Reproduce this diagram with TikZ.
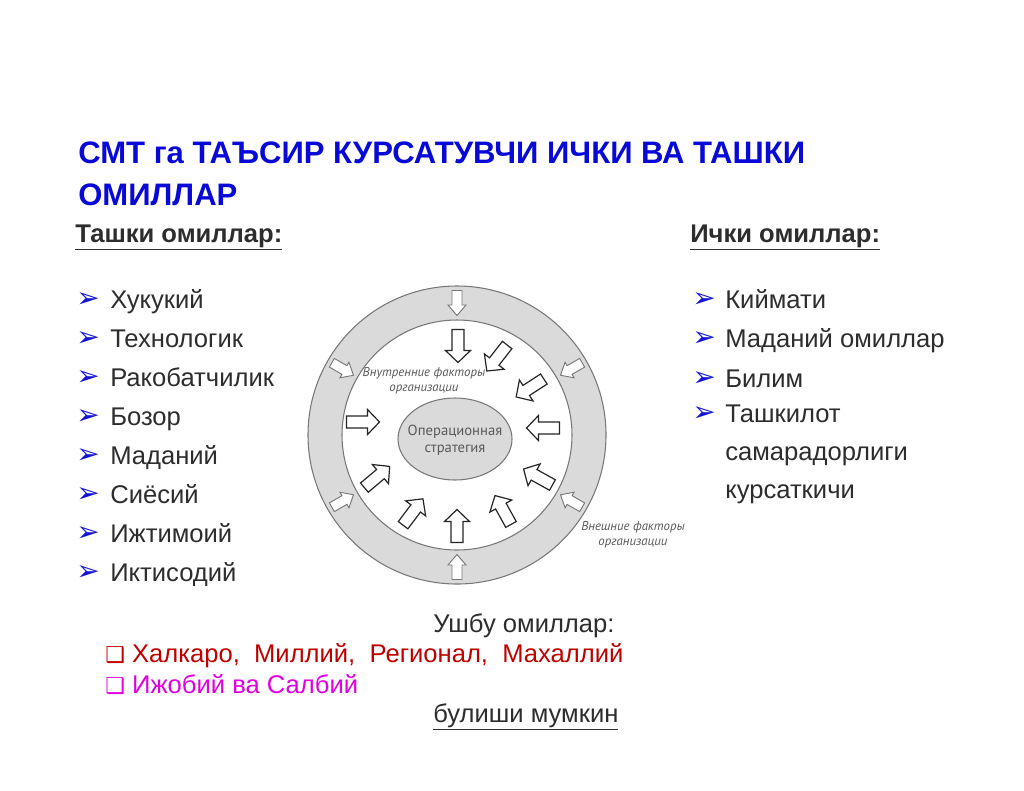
\documentclass[tikz,border=0pt]{standalone}
\usepackage{fontspec}
\setmainfont{Liberation Sans}
\newfontfamily\sym{DejaVu Sans}
\newfontfamily\ptsans{PT Sans}
\definecolor{titleblue}{RGB}{8,8,215}
\definecolor{txt}{RGB}{45,45,45}
\definecolor{ringgray}{RGB}{218,218,218}
\definecolor{edgegray}{RGB}{120,120,120}
\definecolor{lblgray}{RGB}{90,90,90}
\definecolor{redtxt}{RGB}{192,0,0}
\definecolor{magtxt}{RGB}{225,0,225}
\definecolor{bulletblue}{RGB}{20,20,210}
\tikzset{
  titletext/.style={anchor=base west, font=\bfseries\fontsize{23.3}{28}\selectfont, text=titleblue, inner sep=0pt},
  headtext/.style={anchor=base west, font=\bfseries\fontsize{19.2}{23}\selectfont, text=txt, inner sep=0pt},
  itemtext/.style={anchor=base west, font=\fontsize{19.2}{23}\selectfont, text=txt, inner sep=0pt},
  bullet/.style={anchor=base west, font=\sym\fontsize{21}{24}\selectfont, text=bulletblue, inner sep=0pt},
  innerarrow/.style={draw=black!85, fill=white, line width=0.9pt, line join=miter},
  outerarrow/.style={draw=edgegray, fill=white, line width=0.7pt},
  smalllabel/.style={font=\ptsans\itshape\fontsize{9.6}{11}\selectfont, text=lblgray, inner sep=0pt, align=center},
  centerlabel/.style={font=\ptsans\fontsize{11}{12.5}\selectfont, text=lblgray, inner sep=0pt, align=center},
}
\newcommand{\bigarr}[3]{\draw[innerarrow, shift={({#1},{#2})}, rotate={#3}]
  (-16.5,-6) -- (4.5,-6) -- (4.5,-12.5) -- (16.5,0) -- (4.5,12.5) -- (4.5,6) -- (-16.5,6) -- cycle;}
\newcommand{\smallarr}[3]{\draw[outerarrow, shift={({#1},{#2})}, rotate={#3}]
  (-12.5,-5) -- (2,-5) -- (2,-9) -- (12.5,0) -- (2,9) -- (2,5) -- (-12.5,5) -- cycle;}
\begin{document}
\begin{tikzpicture}[x=0.75pt,y=-0.75pt]
\useasboundingbox[fill=white] (0,0) rectangle (1024,790);

% title
\node[titletext] (t1) at (78,163) {СМТ га ТАЪСИР КУРСАТУВЧИ ИЧКИ ВА ТАШКИ};
\node[titletext] (t2) at (78,205) {ОМИЛЛАР};

% headings
\node[headtext] (hl) at (75,242) {\underline{Ташки омиллар:}};
\node[headtext] (hr) at (690,242) {\underline{Ички омиллар:}};

% left list
\foreach \y/\t [count=\i] in {308/Хукукий,347/Технологик,386/Ракобатчилик,425/Бозор,464/Маданий,503/Сиёсий,542/Ижтимоий,581/Иктисодий}{
  \node[bullet] (lb\i) at (76,\y-1) {➢};
  \node[itemtext] (li\i) at (110,\y) {\t};
}
% right list
\foreach \y/\t [count=\i] in {308/Киймати,347/Маданий омиллар,387/Билим,422/Ташкилот}{
  \node[bullet] (rb\i) at (692,\y-1) {➢};
  \node[itemtext] (ri\i) at (725,\y) {\t};
}
\node[itemtext] (ri5) at (725,460) {самарадорлиги};
\node[itemtext] (ri6) at (725,498) {курсаткичи};

% diagram
\coordinate (c) at (457,435);
\filldraw[fill=ringgray, draw=edgegray, line width=0.8pt] (c) circle[radius=149];
\filldraw[fill=white, draw=edgegray, line width=0.8pt] (c) circle[radius=115];
\filldraw[fill=ringgray, draw=edgegray, line width=0.8pt] (455,439) ellipse[x radius=57, y radius=41];
\node[centerlabel] (core) at (455,440) {Операционная\\стратегия};

% outer arrows (in the ring)
\foreach \a in {90,150,210,270,330,30}{
  \smallarr{457+132*cos(\a)}{435-132*sin(\a)}{\a+180}
}
% inner arrows
\bigarr{458}{346}{270}
\bigarr{497}{358}{232}
\bigarr{530}{388}{213}
\bigarr{543}{428}{180}
\bigarr{538}{477}{151}
\bigarr{503}{510}{119}
\bigarr{457}{526}{90}
\bigarr{413}{512}{53}
\bigarr{377}{477}{40}
\bigarr{363}{422}{0}

\node[smalllabel] (intl) at (424,381) {Внутренние факторы\\организации};
\node[smalllabel] (extl) at (633,535) {Внешние факторы\\организации};

% bottom
\node[itemtext] (ub) at (433,632) {Ушбу омиллар:};
\node[itemtext, text=redtxt] (b1) at (105,662) {{\sym\fontsize{16.5}{20}\selectfont ❑}\ Халкаро,\ \ Миллий,\ \ Регионал,\ \ Махаллий};
\node[itemtext, text=magtxt] (b2) at (105,693) {{\sym\fontsize{16.5}{20}\selectfont ❑}\ Ижобий ва Салбий};
\node[itemtext] (bm) at (433,722) {\underline{булиши мумкин}};
\end{tikzpicture}
\end{document}
